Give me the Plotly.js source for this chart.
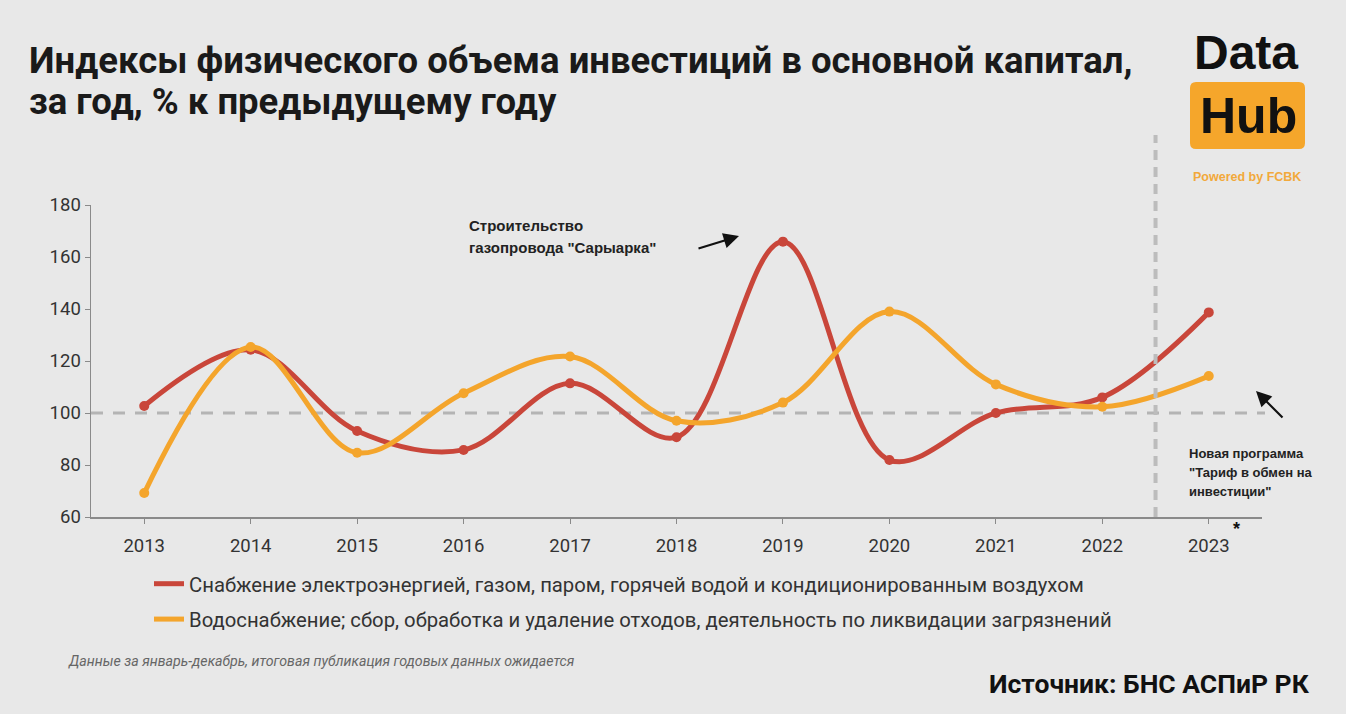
<!DOCTYPE html>
<html>
<head>
<meta charset="utf-8">
<script src="https://cdn.plot.ly/plotly-3.0.1.min.js"></script>
<style>
html,body{margin:0;padding:0;background:#e8e8e8;}
#chart{width:1346px;height:714px;}
</style>
</head>
<body>
<div id="chart"></div>
<script>
// ---- data ----
const years = [2013, 2014, 2015, 2016, 2017, 2018, 2019, 2020, 2021, 2022, 2023];
const tickLabels = ['2013','2014','2015','2016','2017','2018','2019','2020','2021','2022','2023'];
const energyName = 'Снабжение электроэнергией, газом, паром, горячей водой и кондиционированным воздухом';
const energyValues = [102.7, 124.3, 93.1, 85.8, 111.4, 90.7, 165.9, 81.9, 100.0, 106.0, 138.7];
const waterName = 'Водоснабжение; сбор, обработка и удаление отходов, деятельность по ликвидации загрязнений';
const waterValues = [69.2, 125.4, 84.7, 107.6, 121.7, 97.0, 104.0, 139.0, 111.0, 102.4, 114.2];
const baseline = 100;
const programYear = 2022.5;

// ---- layout helpers (pixel -> paper) ----
const W = 1346, H = 714;
const L = 91, R = 1262, T = 205, B = 517;
const px = x => (x - L) / (R - L);
const py = y => (B - y) / (B - T);
const xMin = 2012.5, xMax = 2023.5;

const RED = '#c9463a';
const ORANGE = '#f4a52c';
const FONT = 'Roboto, "Noto Sans", sans-serif';
const ARIAL = '"Liberation Sans", Arial, sans-serif';

function lineTrace(y, name, color, group) {
  return {
    x: years, y: y, name: name, type: 'scatter', mode: 'lines',
    line: {color: color, width: 5, shape: 'spline', smoothing: 1},
    legendgroup: group, showlegend: true
  };
}
function markerTrace(y, name, color, group) {
  return {
    x: years, y: y, name: name, type: 'scatter', mode: 'markers',
    marker: {color: color, size: 10},
    legendgroup: group, showlegend: false
  };
}

const traces = [
  lineTrace(energyValues, energyName, RED, 'a'),
  markerTrace(energyValues, energyName, RED, 'a'),
  lineTrace(waterValues, waterName, ORANGE, 'b'),
  markerTrace(waterValues, waterName, ORANGE, 'b')
];

function txt(x, y, text, size, opts, family, color) {
  return Object.assign({
    xref: 'paper', yref: 'paper', x: px(x), y: py(y), text: text, showarrow: false,
    xanchor: 'left', yanchor: 'middle',
    font: {family: family || FONT, size: size, color: color || '#222'}
  }, opts || {});
}

const annotations = [
  // title
  txt(27, 60, '<b>Индексы физического объема инвестиций в основной капитал,</b>', 36.5, {}, FONT, '#1a1a1a'),
  txt(27, 101, '<b>за год, % к предыдущему году</b>', 36.5, {}, FONT, '#1a1a1a'),
  // logo
  txt(1246, 52, '<b>Data</b>', 48, {xanchor: 'center'}, ARIAL, '#111'),
  txt(1248, 116, '<b>Hub</b>', 50, {xanchor: 'center'}, ARIAL, '#111'),
  txt(1247, 177, '<b>Powered by FCBK</b>', 12.5, {xanchor: 'center'}, ARIAL, '#f2a93b'),
  // annotation 1
  txt(467, 225, '<b>Строительство</b>', 15, {}, ARIAL, '#222'),
  txt(467, 247, '<b>газопровода "Сарыарка"</b>', 15, {}, ARIAL, '#222'),
  {xref: 'paper', yref: 'paper', x: px(739), y: py(236), ax: -42, ay: 13, text: '', showarrow: true,
   arrowhead: 2, arrowsize: 1.4, arrowwidth: 2.2, arrowcolor: '#111'},
  // annotation 2
  txt(1187, 453, '<b>Новая программа</b>', 13, {}, ARIAL, '#222'),
  txt(1187, 472, '<b>"Тариф в обмен на</b>', 13, {}, ARIAL, '#222'),
  txt(1187, 491, '<b>инвестиции"</b>', 13, {}, ARIAL, '#222'),
  {xref: 'paper', yref: 'paper', x: px(1256), y: py(391), ax: 28, ay: 28, text: '', showarrow: true,
   arrowhead: 2, arrowsize: 1.4, arrowwidth: 2.2, arrowcolor: '#111'},
  // asterisk
  txt(1236, 529, '<b>*</b>', 18, {xanchor: 'center'}, ARIAL, '#111'),
  // footnote
  txt(66, 661, '<i>Данные за январь-декабрь, итоговая публикация годовых данных ожидается</i>', 14.2, {}, FONT, '#666'),
  // source
  txt(1312, 683, '<b>Источник: БНС АСПиР РК</b>', 26.5, {xanchor: 'right'}, FONT, '#111')
];

function roundRect(x0, y0, x1, y1, r) {
  const X0 = px(x0), X1 = px(x1), Y0 = py(y0), Y1 = py(y1);
  const rx = r / (R - L), ry = r / (B - T);
  return `M ${X0 + rx},${Y0} L ${X1 - rx},${Y0} Q ${X1},${Y0} ${X1},${Y0 - ry} L ${X1},${Y1 + ry} Q ${X1},${Y1} ${X1 - rx},${Y1} L ${X0 + rx},${Y1} Q ${X0},${Y1} ${X0},${Y1 + ry} L ${X0},${Y0 - ry} Q ${X0},${Y0} ${X0 + rx},${Y0} Z`;
}

const shapes = [
  // baseline 100
  {type: 'line', xref: 'paper', yref: 'y', x0: 0, x1: px(1265), y0: baseline, y1: baseline,
   line: {color: '#b4b4b4', width: 3, dash: '12px,10px'}, layer: 'below'},
  // vertical program line
  {type: 'line', xref: 'paper', yref: 'paper', x0: (programYear - xMin) / (xMax - xMin), x1: (programYear - xMin) / (xMax - xMin),
   y0: 0, y1: py(135), line: {color: '#bcbcbc', width: 4, dash: '10px,7px'}, layer: 'above'},
  // logo box
  {type: 'path', xref: 'paper', yref: 'paper', path: roundRect(1190, 82, 1305, 149, 6),
   fillcolor: '#f5a62b', line: {width: 0}, layer: 'below'}
];

const layout = {
  width: W, height: H,
  paper_bgcolor: '#e8e8e8', plot_bgcolor: '#e8e8e8',
  margin: {l: L, r: W - R, t: T, b: H - B, pad: 0},
  font: {family: FONT, color: '#333'},
  showlegend: true,
  legend: {
    x: px(149), y: py(564), xanchor: 'left', yanchor: 'top',
    orientation: 'v', traceorder: 'grouped', tracegroupgap: 6,
    font: {family: FONT, size: 20.3, color: '#333'},
    bgcolor: 'rgba(0,0,0,0)', itemclick: false
  },
  xaxis: {
    range: [xMin, xMax], tickmode: 'array', tickvals: years, ticktext: tickLabels,
    showgrid: false, zeroline: false, showline: true, linecolor: '#8a8a8a', linewidth: 1.5,
    ticks: 'outside', ticklen: 5, tickcolor: '#8a8a8a', tickwidth: 1, ticklabelstandoff: 6,
    tickfont: {family: FONT, size: 18.5, color: '#333'}, fixedrange: true
  },
  yaxis: {
    range: [60, 180], tickvals: [60, 80, 100, 120, 140, 160, 180],
    showgrid: false, zeroline: false, showline: true, linecolor: '#8a8a8a', linewidth: 1.5,
    ticks: 'outside', ticklen: 5, tickcolor: '#8a8a8a', tickwidth: 1,
    tickfont: {family: FONT, size: 18.5, color: '#333'}, fixedrange: true
  },
  annotations: annotations,
  shapes: shapes
};

Plotly.newPlot('chart', traces, layout, {displayModeBar: false, staticPlot: true});
</script>
</body>
</html>
